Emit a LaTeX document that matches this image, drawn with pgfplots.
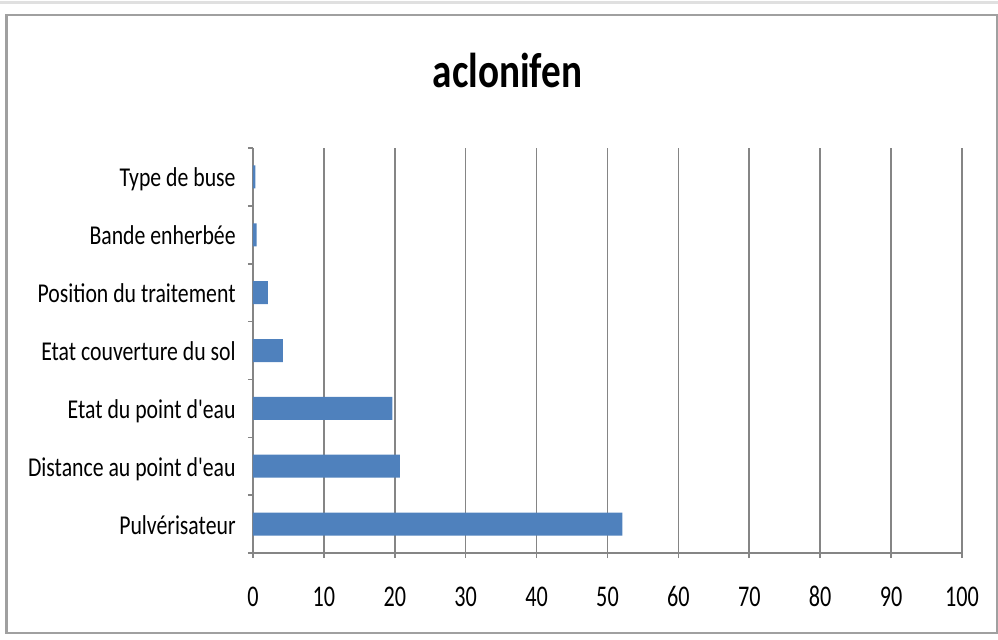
\documentclass[border=0pt]{standalone}
\usepackage{graphicx}
\usepackage{pgfplots}
\pgfplotsset{compat=1.18}
\usepackage{fontspec}
\setmainfont[Ligatures=TeXOff]{Carlito}
\newcommand\sx[1]{\scalebox{0.8}[1]{#1}}
\newcommand\sxt[1]{\scalebox{0.74}[1]{#1}}
\definecolor{barblue}{HTML}{4F81BD}
\definecolor{gridgray}{HTML}{858585}
\definecolor{framegray}{HTML}{A0A0A0}
\begin{document}
\begin{tikzpicture}
\useasboundingbox (0pt,0pt) rectangle (499pt,-319.5pt);
\draw[black!12, line width=1.5pt] (0pt,-1pt) -- (499pt,-1pt);
\draw[framegray, line width=1.2pt] (3.25pt,-7.5pt) rectangle (498.5pt,-316.5pt);
\node[anchor=base, font=\fontsize{24.5}{28}\selectfont\bfseries] at (253.75pt,-43.5pt) {\sx{aclonifen}};
\begin{axis}[
  at={(126.5pt,-276.5pt)}, anchor=south west,
  scale only axis, width=354.5pt, height=202.5pt,
  xbar, bar width=11.5pt, bar shift=0pt,
  xmin=0, xmax=100, ymin=-0.5, ymax=6.5,
  xtick={0,10,20,30,40,50,60,70,80,90,100},
  xticklabels={\sxt{0},\sxt{10},\sxt{20},\sxt{30},\sxt{40},\sxt{50},\sxt{60},\sxt{70},\sxt{80},\sxt{90},\sxt{100}},
  ytick={0,1,2,3,4,5,6},
  yticklabels={\sx{Pulvérisateur},\sx{Distance au point d\textquotesingle eau},\sx{Etat du point d\textquotesingle eau},\sx{Etat couverture du sol},\sx{Position du traitement},\sx{Bande enherbée},\sx{Type de buse}},
  minor ytick={-0.5,0.5,...,6.5},
  axis x line*=bottom, axis y line*=left,
  axis line style={-, gridgray, line width=0.8pt},
  xmajorgrids, grid style={gridgray, line width=0.8pt},
  tick align=outside,
  major tick length=2.5pt, minor tick length=2.5pt,
  y tick style={draw=none},
  minor y tick style={draw=gridgray, line width=0.8pt},
  x tick style={gridgray, line width=0.8pt},
  xticklabel style={font=\fontsize{15}{17}\selectfont, anchor=north, inner sep=0pt, text height=10.5pt, text depth=0pt, yshift=-13.5pt},
  yticklabel style={font=\fontsize{13.6}{15}\selectfont, anchor=east, inner sep=0pt, text height=9pt, text depth=2.5pt, xshift=-6pt, yshift=-1.75pt},
]
\addplot[fill=barblue, draw=none] coordinates {
(52.1,0) (20.7,1) (19.65,2) (4.2,3) (2.1,4) (0.5,5) (0.35,6)
};
\end{axis}
\end{tikzpicture}
\end{document}
